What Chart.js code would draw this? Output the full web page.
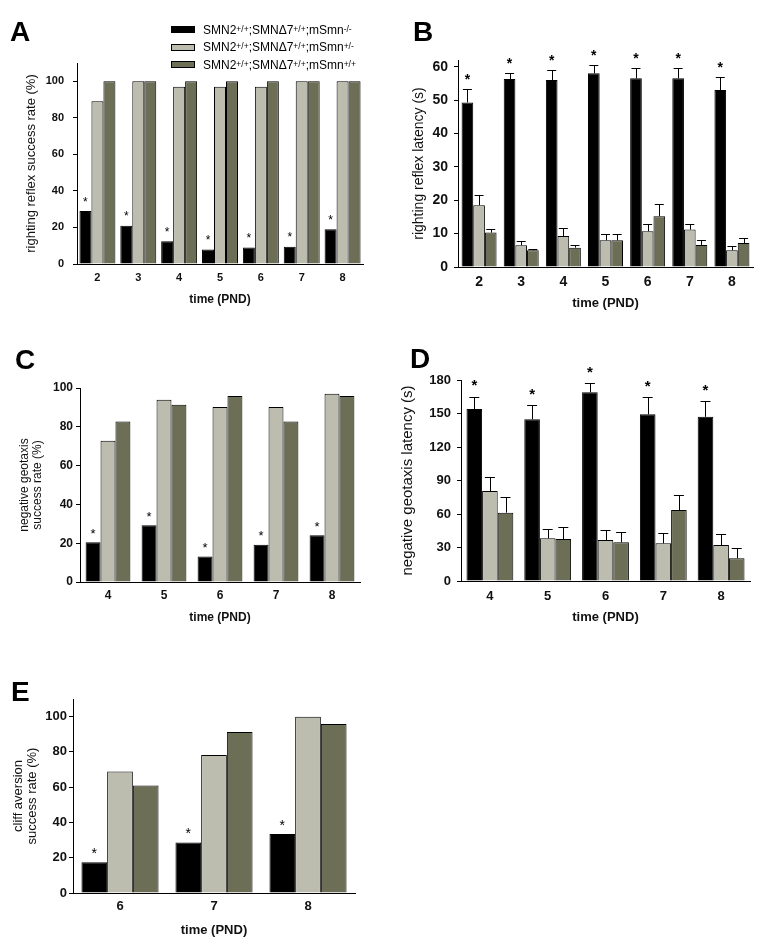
<!DOCTYPE html>
<html>
<head>
<meta charset="utf-8">
<script src="https://cdn.jsdelivr.net/npm/chart.js@4.4.0/dist/chart.umd.min.js"></script>
<style>
body { margin: 0; background: #fff; width: 773px; height: 945px; position: relative; overflow: hidden; font-family: "Liberation Sans", Arial, sans-serif; }
canvas { position: absolute; }
.lbl { position: absolute; font: bold 28px "Liberation Sans", Arial, sans-serif; line-height: 28px; color: #000; }
.legend { position: absolute; left: 171px; top: 21px; font: 12px "Liberation Sans", Arial, sans-serif; color: #000; }
.legend .row { height: 17.5px; display: flex; align-items: center; white-space: nowrap; }
.legend .sw { width: 22px; height: 5px; border: 1px solid #000; margin-right: 8px; }
.legend sup { font-size: 8.5px; line-height: 0; position: relative; top: -1px; }
</style>
</head>
<body>
<canvas id="cA" width="375" height="310" style="left:0;top:0"></canvas>
<canvas id="cB" width="383" height="315" style="left:390px;top:0"></canvas>
<canvas id="cC" width="375" height="320" style="left:0;top:310px"></canvas>
<canvas id="cD" width="383" height="320" style="left:390px;top:310px"></canvas>
<canvas id="cE" width="375" height="315" style="left:0;top:630px"></canvas>

<div class="lbl" style="left:10px;top:18px">A</div>
<div class="lbl" style="left:413px;top:18px">B</div>
<div class="lbl" style="left:15px;top:346px">C</div>
<div class="lbl" style="left:410px;top:345px">D</div>
<div class="lbl" style="left:11px;top:678px">E</div>

<div class="legend">
  <div class="row"><span class="sw" style="background:#000"></span>SMN2<sup>+/+</sup>;SMNΔ7<sup>+/+</sup>;mSmn<sup>-/-</sup></div>
  <div class="row"><span class="sw" style="background:#bcbdaf"></span>SMN2<sup>+/+</sup>;SMNΔ7<sup>+/+</sup>;mSmn<sup>+/-</sup></div>
  <div class="row"><span class="sw" style="background:#6c6e56"></span>SMN2<sup>+/+</sup>;SMNΔ7<sup>+/+</sup>;mSmn<sup>+/+</sup></div>
</div>

<script>
// days (PND)
const daysAB = ['2', '3', '4', '5', '6', '7', '8']
const daysCD = ['4', '5', '6', '7', '8']
const daysE = ['6', '7', '8']

// A - righting reflex success rate (%)
const rightSuccKO = [29, 21, 12.5, 8, 9, 9.5, 19]
const rightSuccHet = [89, 100, 97, 97, 97, 100, 100]
const rightSuccWT = [100, 100, 100, 100, 100, 100, 100]

// B - righting reflex latency (s), mean and SEM
const rightLatKO = [49.3, 56.3, 56, 58, 56.5, 56.5, 53]
const rightLatKOErr = [3.9, 1.9, 3, 2.6, 3.2, 3.2, 3.8]
const rightLatHet = [18.5, 6.5, 9.3, 8, 10.7, 11.2, 5]
const rightLatHetErr = [3, 1.3, 2.3, 2, 2.3, 1.8, 1.2]
const rightLatWT = [10.3, 5, 5.8, 8, 15.2, 6.6, 7.2]
const rightLatWTErr = [1.2, 0.5, 0.7, 1.8, 3.8, 1.6, 1.6]

// C - negative geotaxis success rate (%)
const geoSuccKO = [20.5, 29.3, 13.2, 19.2, 24.1]
const geoSuccHet = [72.8, 94, 90.2, 90.2, 97]
const geoSuccWT = [82.7, 91.4, 95.9, 82.7, 95.9]

// D - negative geotaxis latency (s), mean and SEM
const geoLatKO = [154, 144.8, 169, 149.3, 147]
const geoLatKOErr = [11, 12.8, 8, 15.2, 14]
const geoLatHet = [80.6, 38.2, 36.7, 33.7, 32.2]
const geoLatHetErr = [12.8, 8.4, 9, 9.6, 9.6]
const geoLatWT = [61.2, 37.6, 34.6, 63.6, 20.3]
const geoLatWTErr = [14.3, 11.1, 9, 13.4, 9]

// E - cliff aversion success rate (%)
const cliffKO = [17.5, 28.7, 33.4]
const cliffHet = [68.9, 78.3, 100]
const cliffWT = [61, 91.3, 95.8]

// y tick labels
const ticksPct = [0, 20, 40, 60, 80, 100]
const ticksB = [0, 10, 20, 30, 40, 50, 60]
const ticksD = [0, 30, 60, 90, 120, 150, 180]

const fills = ['#000000', '#bcbdaf', '#6c6e56']
const FAM = '"Liberation Sans", Arial, sans-serif'

// error bars (upper only) + asterisks over the knockout bars
const errStar = {
    id: 'errStar',
    afterDatasetsDraw(chart, args, opts) {
        const ctx = chart.ctx
        const ys = chart.scales.y
        ctx.save()
        chart.data.datasets.forEach((ds, di) => {
            const meta = chart.getDatasetMeta(di)
            meta.data.forEach((bar, i) => {
                const v = ds.data[i]
                const e = ds.err ? ds.err[i] : 0
                const yt = ys.getPixelForValue(v + e)
                if (ds.err) {
                    ctx.strokeStyle = '#000'
                    ctx.lineWidth = 1
                    ctx.beginPath()
                    ctx.moveTo(Math.round(bar.x) + 0.5, bar.y)
                    ctx.lineTo(Math.round(bar.x) + 0.5, Math.round(yt) + 0.5)
                    ctx.moveTo(bar.x - opts.cap / 2, Math.round(yt) + 0.5)
                    ctx.lineTo(bar.x + opts.cap / 2, Math.round(yt) + 0.5)
                    ctx.stroke()
                }
                if (ds.star) {
                    ctx.fillStyle = '#000'
                    ctx.font = opts.starWeight + ' ' + opts.starSize + 'px ' + FAM
                    ctx.textAlign = 'center'
                    ctx.textBaseline = 'alphabetic'
                    ctx.fillText('*', bar.x, yt - opts.gap + 0.57 * opts.starSize)
                }
            })
        })
        ctx.restore()
    }
}

const makePanel = (id, labels, series, o) => {
    const datasets = series.map((s, i) => ({
        data: s[0],
        err: s[1],
        star: i === 0,
        backgroundColor: fills[i],
        borderColor: '#000',
        borderWidth: 1,
        categoryPercentage: o.cat,
        barPercentage: 1
    }))

    return new Chart(document.getElementById(id), {
        type: 'bar',
        data: { labels: labels, datasets: datasets },
        options: {
            responsive: false,
            animation: false,
            devicePixelRatio: 1,
            layout: { padding: { top: o.top, right: o.right, left: 0, bottom: 0 } },
            plugins: {
                legend: { display: false },
                tooltip: { enabled: false },
                errStar: { cap: o.cap, gap: o.gap, starSize: o.starSize, starWeight: o.starWeight }
            },
            scales: {
                x: {
                    grid: { display: false, drawTicks: false },
                    border: { color: '#000', width: 1 },
                    ticks: { color: '#111', padding: o.xPad, font: { family: FAM, weight: 'bold', size: o.xFont } },
                    title: {
                        display: true, text: 'time (PND)', color: '#111',
                        font: { family: FAM, size: o.xtFont, weight: 'bold' },
                        padding: { top: 0, bottom: o.xtPad }
                    },
                    afterFit: (s) => { s.height = o.xH }
                },
                y: {
                    min: 0,
                    max: o.max,
                    afterBuildTicks: (s) => { s.ticks = o.ticks.map(v => ({ value: v })) },
                    grid: { display: true, drawOnChartArea: false, drawTicks: true, tickLength: 4, color: '#000' },
                    border: { color: '#000', width: 1 },
                    ticks: { color: '#111', padding: o.yPad, font: { family: FAM, weight: 'bold', size: o.yFont } },
                    title: {
                        display: true, text: o.yTitle, color: '#111',
                        font: { family: FAM, size: o.ytFont, lineHeight: o.ytLh },
                        padding: { top: o.ytPad, bottom: 0 }
                    },
                    afterFit: (s) => { s.width = o.yW }
                }
            }
        },
        plugins: [errStar]
    })
}

makePanel('cA', daysAB, [[rightSuccKO], [rightSuccHet], [rightSuccWT]], {
    cat: 0.88, top: 63, right: 12, max: 110, ticks: ticksPct, yW: 77, xH: 46,
    xFont: 11, xPad: 7, xtFont: 12, xtPad: 3,
    yFont: 11, yPad: 9, yTitle: 'righting reflex success rate (%)', ytFont: 13, ytLh: 1.2, ytPad: 24,
    cap: 0, gap: 12, starSize: 12, starWeight: 'normal'
})

makePanel('cB', daysAB, [[rightLatKO, rightLatKOErr], [rightLatHet, rightLatHetErr], [rightLatWT, rightLatWTErr]], {
    cat: 0.83, top: 60, right: 20, max: 62, ticks: ticksB, yW: 68, xH: 48,
    xFont: 14, xPad: 7, xtFont: 13, xtPad: 4,
    yFont: 14, yPad: 6, yTitle: 'righting reflex latency (s)', ytFont: 14, ytLh: 1.2, ytPad: 21,
    cap: 9, gap: 13, starSize: 14, starWeight: 'bold'
})

makePanel('cC', daysCD, [[geoSuccKO], [geoSuccHet], [geoSuccWT]], {
    cat: 0.8, top: 78, right: 15, max: 100, ticks: ticksPct, yW: 80, xH: 48,
    xFont: 12, xPad: 6, xtFont: 12, xtPad: 5,
    yFont: 12, yPad: 3, yTitle: ['negative geotaxis', 'success rate (%)'], ytFont: 12, ytLh: 1.1, ytPad: 18,
    cap: 0, gap: 12, starSize: 13, starWeight: 'normal'
})

makePanel('cD', daysCD, [[geoLatKO, geoLatKOErr], [geoLatHet, geoLatHetErr], [geoLatWT, geoLatWTErr]], {
    cat: 0.81, top: 70, right: 23, max: 180, ticks: ticksD, yW: 71, xH: 49,
    xFont: 13, xPad: 8, xtFont: 13, xtPad: 5,
    yFont: 13, yPad: 6, yTitle: 'negative geotaxis latency (s)', ytFont: 15, ytLh: 1.2, ytPad: 9,
    cap: 10, gap: 15, starSize: 15, starWeight: 'bold'
})

makePanel('cE', daysE, [[cliffKO], [cliffHet], [cliffWT]], {
    cat: 0.82, top: 69, right: 20, max: 110, ticks: ticksPct, yW: 73, xH: 52,
    xFont: 13, xPad: 6, xtFont: 13, xtPad: 7,
    yFont: 13, yPad: 2, yTitle: ['cliff aversion', 'success rate (%)'], ytFont: 13, ytLh: 1.1, ytPad: 11,
    cap: 0, gap: 12, starSize: 14, starWeight: 'normal'
})
</script>
</body>
</html>
